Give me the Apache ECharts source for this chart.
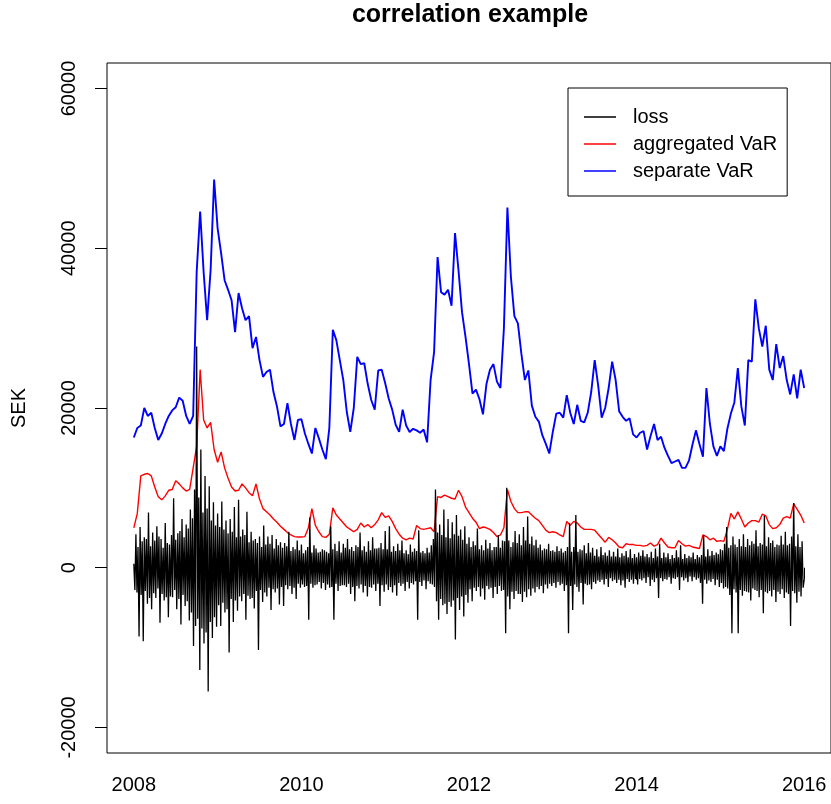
<!DOCTYPE html>
<html>
<head>
<meta charset="utf-8">
<script src="https://cdn.jsdelivr.net/npm/echarts@6/dist/echarts.min.js"></script>
<style>
  html, body { margin: 0; padding: 0; background: #ffffff; }
  #chart { width: 831px; height: 804px; }
</style>
</head>
<body>
<div id="chart"></div>
<script>
// Observation grid: decimal years starting in 2008
const START_YEAR = 2008;
const VAR_STEP = 1 / 24;   // VaR estimates, twice a month
const LOSS_STEP = 1 / 80;  // realised losses

// Realised loss (SEK)
const lossValues = [
  500, -2800, 4200, -3100, 2600, -8600, 5100, -3400, 3300, -9200, 3800, -2900, 3600, -4500, 6900, -3800, 2700, -5200, 4400, -3200,
  3400, -3800, 5200, -2600, 3900, -6900, 3600, -3300, 2500, -4100, 5600, -3700, 3100, -6200, 2900, -3600, 4100, -3700, 8700, -2800,
  3500, -5200, 4300, -3900, 4600, -7100, 6100, -3400, 3800, -4800, 5400, -4200, 4900, -6600, 7300, -5600, 6200, -9800, 9800, -7300,
  27700, -6400, 8800, -12800, 14800, -7600, 6900, -9500, 11500, -8100, 7400, -15500, 10200, -6800, 5900, -8800, 8200, -6200, 5300, -7400,
  6800, -4700, 5100, -7300, 8300, -4400, 4800, -5600, 5900, -5200, 4300, -10600, 6100, -3900, 4500, -6800, 7600, -4100, 3800, -5400,
  8500, -3600, 3900, -4200, 4800, -3300, 4100, -6500, 7000, -3500, 3200, -3900, 4500, -3800, 3400, -5100, 3600, -2900, 3100, -10300,
  3900, -2800, 2600, -4300, 5300, -3100, 2900, -3600, 3900, -2500, 3000, -5300, 4100, -2700, 2400, -3100, 3600, -2600, 2800, -4600,
  3200, -2400, 2500, -4800, 3100, -2200, 2700, -2700, 4500, -2300, 2100, -3300, 2600, -2500, 2300, -3900, 3400, -2000, 2200, -2500,
  2900, -2100, 1800, -2400, 2200, -2300, 2600, -6500, 6300, -2000, 1900, -2500, 2800, -2200, 2400, -2100, 1900, -1800, 2000, -2600,
  2300, -1900, 2200, -2800, 2000, -2100, 1800, -2500, 5200, -2400, 2300, -6500, 3000, -2000, 2100, -2900, 3300, -2300, 1900, -2200,
  3000, -2200, 2500, -2400, 3600, -2000, 2300, -3300, 2600, -2400, 2100, -4200, 2800, -2300, 2600, -2600, 4400, -2100, 2200, -3100,
  2700, -2300, 2000, -3600, 3300, -2400, 2200, -2500, 3800, -2100, 2400, -2900, 2400, -2000, 2500, -4800, 3100, -2200, 2300, -3000,
  4600, -2100, 2300, -2800, 5200, -2400, 2000, -3100, 2700, -2200, 2100, -3500, 3000, -1900, 2200, -2300, 3400, -2000, 1800, -2900,
  2200, -1800, 1700, -2600, 2900, -1900, 2000, -2100, 2400, -1700, 2100, -6500, 4700, -1800, 1900, -2300, 2100, -1600, 1800, -2700,
  2500, -1700, 1900, -2000, 2800, -2100, 3600, -2400, 9800, -4200, 4400, -6500, 5400, -3900, 4100, -4700, 7300, -4500, 3800, -5800,
  6100, -4300, 3700, -4900, 5700, -4100, 4200, -9000, 6600, -3800, 4000, -5300, 4800, -3600, 3500, -6100, 5200, -3400, 3000, -4400,
  3800, -2700, 2600, -4200, 3300, -2500, 2800, -2900, 4900, -2400, 2300, -3600, 2800, -2600, 2200, -4000, 3500, -2300, 2400, -2700,
  3100, -2500, 2200, -3800, 2600, -2400, 2600, -3300, 4100, -2300, 2500, -2900, 3400, -2800, 3300, -8200, 10000, -3600, 3400, -5200,
  2600, -3000, 3200, -3900, 4600, -2900, 3100, -3300, 4200, -3300, 2800, -4300, 5100, -3000, 3400, -3700, 6400, -2700, 3000, -3500,
  3900, -2600, 2800, -3100, 3500, -2400, 2500, -2700, 2900, -2300, 2200, -3200, 2400, -2100, 2300, -2600, 3000, -2000, 2100, -2300,
  2200, -1900, 2000, -2500, 2700, -1800, 2100, -2200, 2400, -2000, 1900, -2900, 2100, -2200, 2600, -8200, 5600, -2300, 2000, -5300,
  2600, -2100, 6600, -2400, 2000, -3000, 2300, -1900, 2200, -4600, 2800, -2000, 1800, -2200, 3100, -2100, 1900, -2700, 2500, -1800,
  1500, -2000, 2300, -1600, 1400, -1800, 2600, -1500, 1600, -2100, 1900, -1400, 1500, -2400, 2200, -1300, 1400, -1700, 2000, -1500,
  1400, -1900, 2400, -1500, 1300, -2200, 1800, -1600, 1500, -2500, 2100, -1400, 1300, -1800, 2300, -1500, 1200, -2000, 1700, -1400,
  1300, -2100, 1900, -1400, 1500, -1600, 2200, -1300, 1400, -1900, 1700, -1200, 1300, -2300, 2000, -1500, 1200, -1800, 2400, -1300,
  1400, -3800, 3000, -1300, 1200, -1700, 1900, -1400, 1300, -1500, 1800, -1200, 1100, -2000, 1600, -1300, 1200, -1400, 2200, -1200,
  1300, -2800, 2800, -1200, 1100, -1600, 1700, -1300, 1200, -1800, 1500, -1100, 1300, -1700, 1900, -1200, 1100, -1500, 1600, -1300,
  1300, -1900, 1600, -4500, 4100, -1500, 1400, -2000, 2300, -1600, 1500, -1800, 2100, -1400, 1600, -2200, 1900, -1500, 1700, -2400,
  2300, -1900, 2200, -2600, 3000, -2400, 5100, -2600, 2500, -3400, 2800, -8200, 3900, -2700, 2900, -3100, 2600, -8200, 3600, -2800,
  2700, -3500, 4200, -2900, 2600, -3000, 3600, -3100, 2800, -4100, 3300, -2600, 3000, -2800, 4700, -2900, 2700, -3700, 3100, -2800,
  2900, -5700, 6500, -3000, 2700, -3200, 3800, -2900, 3100, -3600, 3400, -2800, 2600, -4300, 2900, -3000, 2800, -3300, 4000, -2700,
  2900, -3800, 4500, -3100, 2800, -3300, 3000, -7300, 3900, -2900, 8100, -3200, 2700, -4400, 4200, -3000, 2600, -3600, 3300, -2500,
  -1500
];

// VaR of the aggregated portfolio (SEK)
const aggregatedVaR = [
  5000, 6800, 11500, 11700, 11800, 11500, 10100, 8900, 8500, 9000,
  9700, 9800, 10900, 10500, 10000, 9600, 9800, 12500, 15200, 24800,
  18500, 17500, 18200, 14800, 13200, 14500, 12500, 11200, 10100, 9600,
  9700, 10500, 10000, 9400, 9000, 10500, 8600, 7400, 7000, 6600,
  6100, 5700, 5200, 4800, 4400, 4100, 3900, 3850, 3850, 3900,
  5000, 7400, 5300, 4500, 3900, 3800, 4200, 7500, 6600, 6100,
  5600, 5100, 4800, 4500, 4800, 5600, 5100, 5400, 5000, 5400,
  6000, 6900, 6300, 6500, 5800, 4900, 4200, 3700, 3500, 3700,
  3600, 5300, 4900, 4800, 4900, 5000, 4500, 8900, 8800, 9100,
  8900, 8700, 8600, 9700, 8900, 7600, 6900, 6200, 5700, 4900,
  5100, 5000, 4800, 4400, 3900, 4100, 5000, 9800, 8300, 7400,
  6900, 6900, 7000, 7000, 6600, 6200, 5900, 5300, 4700, 4400,
  4500, 4400, 4100, 3900, 5800, 5300, 5800, 5600, 5100, 4800,
  4800, 4800, 4700, 4200, 3700, 3200, 3800, 3500, 3100, 2600,
  2500, 3000, 2900, 2900, 2800, 2800, 2700, 2800, 3100, 2700,
  2900, 3700, 3100, 2600, 2500, 2500, 3400, 3000, 2700, 2800,
  2600, 2500, 2400, 4100, 3900, 3500, 3700, 3300, 3400, 3300,
  4800, 6800, 6100, 7000, 6100, 5100, 5600, 5900, 5900, 5700,
  6700, 6500, 5400, 4900, 5000, 5400, 6200, 6400, 6200, 8000,
  7300, 6600, 5600
];

// Sum of the separately computed VaRs (SEK)
const separateVaR = [
  16300, 17500, 17800, 20000, 19000, 19400, 17500, 16000, 16800, 18000,
  19000, 19700, 20100, 21300, 20900, 19000, 18000, 19000, 37000, 44600,
  37000, 31000, 37300, 48600, 42500, 39400, 36000, 34800, 33500, 29500,
  34400, 32500, 31000, 31500, 27500, 28900, 26000, 23900, 24500, 24800,
  22000, 20200, 17700, 18000, 20600, 18000, 16000, 18500, 18600, 16800,
  15500, 14300, 17500, 16200, 14800, 13600, 17500, 29800, 28500, 26000,
  23500, 19500, 17000, 20000, 26400, 25500, 25600, 23000, 21000, 19800,
  24700, 24800, 23100, 21200, 19800, 17900, 17000, 19800, 17800, 17000,
  17400, 17200, 16900, 17300, 15700, 23500, 27000, 38900, 34500, 34200,
  34800, 32800, 41900, 37200, 32000, 28900, 25500, 21800, 22300, 21100,
  19200, 23000, 24800, 25500, 23300, 22500, 30000, 45100, 36400, 31500,
  30600, 26800, 23500, 24700, 20300, 18900, 18300, 16600, 15500, 14300,
  17000, 19300, 19400, 18800, 21600, 19400, 18000, 20400, 18400, 18200,
  19400, 22000, 26000, 22800, 18800, 20000, 22500, 25800, 23500, 19600,
  18900, 18400, 18700, 16700, 16300, 16900, 17100, 14800, 16500, 18000,
  16000, 16400, 15000, 14000, 13100, 13300, 13500, 12500, 12500, 13400,
  15400, 17200, 15500, 13900, 22500, 18000, 15200, 14000, 15200, 14600,
  17400, 19300, 20700, 25000, 20200, 17800, 26000, 25800, 33600, 30000,
  27700, 30300, 24800, 23500, 28000, 25000, 26500, 23500, 21700, 24200,
  21200, 24800, 22500
];

// Axis ticks
const xTicks = [2008, 2010, 2012, 2014, 2016];
const yTicks = [-20000, 0, 20000, 40000, 60000];

const FONT = 'Liberation Sans, Arial, Helvetica, sans-serif';

function toPairs(values, step) {
  return values.map(function (v, i) { return [START_YEAR + i * step, v]; });
}

function lineSeries(name, values, step, color, width) {
  return {
    name: name,
    type: 'line',
    data: toPairs(values, step),
    showSymbol: false,
    symbol: 'none',
    sampling: null,
    animation: false,
    color: color,
    lineStyle: { color: color, width: width },
    emphasis: { disabled: true }
  };
}

const chart = echarts.init(document.getElementById('chart'), null, { renderer: 'canvas' });

chart.setOption({
  animation: false,
  backgroundColor: '#ffffff',
  textStyle: { fontFamily: FONT },
  title: {
    text: 'correlation example',
    left: 470,
    textAlign: 'center',
    top: 3,
    padding: 0,
    textStyle: { fontFamily: FONT, fontSize: 25, fontWeight: 'bold', color: '#000' }
  },
  grid: {
    left: 107, top: 63, width: 727, height: 690,
    show: true, borderColor: '#000', borderWidth: 1, backgroundColor: 'transparent',
    containLabel: false
  },
  legend: {
    orient: 'vertical',
    left: 568, top: 88,
    padding: [19, 10, 15, 16],
    itemWidth: 32, itemHeight: 20, itemGap: 7,
    icon: 'path://M0,0H32V1.5H0Z',
    borderColor: '#000', borderWidth: 1, borderRadius: 0,
    backgroundColor: '#ffffff',
    selectedMode: false,
    textStyle: { fontFamily: FONT, fontSize: 20, color: '#000', padding: [0, 0, 0, 12] },
    data: ['loss', 'aggregated VaR', 'separate VaR']
  },
  xAxis: {
    type: 'value',
    min: 2007.68, max: 2016.32,
    axisLine: { show: false },
    splitLine: { show: false },
    axisTick: { show: true, inside: false, length: 12, customValues: xTicks,
                lineStyle: { color: '#000', width: 1 } },
    axisLabel: { show: true, margin: 22, customValues: xTicks, color: '#000',
                 fontFamily: FONT, fontSize: 20,
                 formatter: function (v) { return String(v); } }
  },
  yAxis: {
    type: 'value',
    min: -23200, max: 63200,
    name: 'SEK',
    nameLocation: 'middle',
    nameGap: 78,
    nameRotate: 90,
    nameTextStyle: { fontFamily: FONT, fontSize: 20, color: '#000' },
    axisLine: { show: false },
    splitLine: { show: false },
    axisTick: { show: true, inside: false, length: 12, customValues: yTicks,
                lineStyle: { color: '#000', width: 1 } },
    axisLabel: { show: true, margin: 28, rotate: 90, customValues: yTicks, color: '#000',
                 fontFamily: FONT, fontSize: 20,
                 formatter: function (v) { return String(v); } }
  },
  series: [
    lineSeries('aggregated VaR', aggregatedVaR, VAR_STEP, '#ff0000', 1.4),
    lineSeries('loss', lossValues, LOSS_STEP, '#000000', 1.3),
    lineSeries('separate VaR', separateVaR, VAR_STEP, '#0000ff', 1.9)
  ]
});
</script>
</body>
</html>
